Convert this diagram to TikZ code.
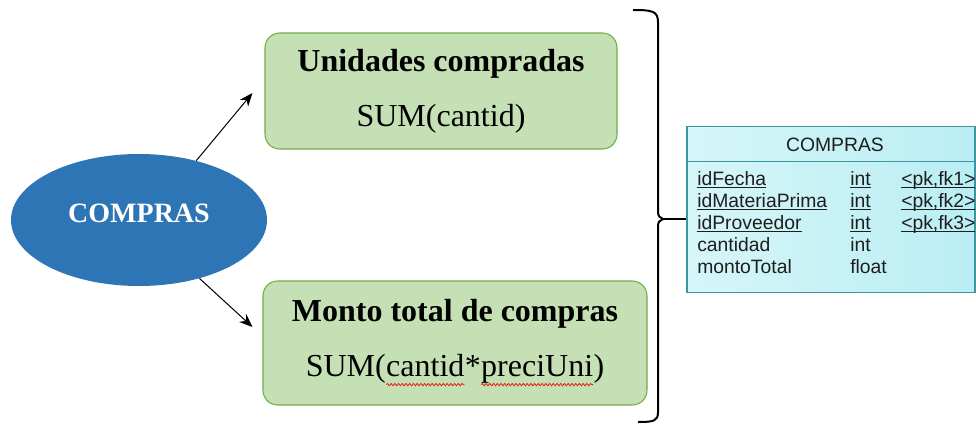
\documentclass[tikz,border=0pt]{standalone}
\usepackage{fontspec}
\setmainfont{Liberation Serif}
\setsansfont{Liberation Sans}
\usepackage{xcolor}
\usepackage{tikz}
\usetikzlibrary{shapes.geometric, arrows.meta, positioning, calc, decorations.pathmorphing}
\definecolor{myblue}{RGB}{46,117,182}
\definecolor{mygreen}{RGB}{112,173,71}
\definecolor{hdrgreen}{RGB}{197,224,180}
\definecolor{myteal}{RGB}{60,150,160}
\definecolor{tblleft}{RGB}{214,246,248}
\definecolor{tblright}{RGB}{186,238,244}
\definecolor{mydark}{RGB}{0,0,0}
\definecolor{tbltext}{RGB}{30,30,30}
\definecolor{spellred}{RGB}{225,30,30}
\newcommand{\fieldul}[1]{\setbox0\hbox{#1}\rlap{\rule[-2.5pt]{\wd0}{0.8pt}}\box0}
\newcommand{\spellwave}[1]{\tikz[baseline=(sw.base)]{%
  \node[shape=rectangle, draw=none, fill=none, inner sep=0pt, outer sep=0pt,
    minimum width=0pt, minimum height=0pt, rounded corners=0pt] (sw) {#1};
  \draw[spellred, line width=0.6pt, sharp corners, decorate,
    decoration={snake, amplitude=0.9pt, segment length=2.8pt}]
    ([yshift=-6pt]sw.base west) -- ([yshift=-6pt]sw.base east);}}
\tikzset{
  entity/.style={ellipse, fill=myblue, draw=none,
    minimum width=192pt, minimum height=99pt, inner sep=0pt, text depth=10pt,
    text=white, font=\fontsize{21}{25}\selectfont\bfseries},
  measure/.style={rectangle, draw=mygreen, fill=hdrgreen,
    align=center, rounded corners=11pt, line width=0.8pt,
    font=\fontsize{24}{41}\selectfont},
  tablebox/.style={rectangle, draw=myteal, left color=tblleft, right color=tblright,
    minimum width=216pt, minimum height=124pt, inner sep=0pt, line width=0.8pt},
  tblfield/.style={anchor=base west, inner sep=0pt, text=tbltext,
    font=\sffamily\fontsize{14.5}{17}\selectfont},
  arrow/.style={-{Stealth[length=10pt, width=8pt]}, line width=0.75pt, color=mydark},
  line/.style={line width=0.8pt, color=mydark},
  bracket/.style={line width=1.5pt, color=mydark, line join=round}
}

\begin{document}
\begin{tikzpicture}[x=0.75pt, y=-0.75pt]
  \useasboundingbox (0,0) rectangle (976,425);

  % Nodes
  \node[entity] (compras) at (139,220) {COMPRAS};
  \node[measure, minimum width=264pt, minimum height=87pt] (unid) at (441,91)
    {\textbf{Unidades compradas}\\SUM(cantid)};
  \node[measure, minimum width=288pt, minimum height=93pt] (monto) at (455,343)
    {\textbf{Monto total de compras}\\SUM(\spellwave{cantid}*\spellwave{preciUni})};

  % Table
  \node[tablebox] (tabla) at (831,209.5) {};
  \draw[line, color=myteal] ($(tabla.north west)+(0,35)$) -- ($(tabla.north east)+(0,35)$);
  \node[tblfield, anchor=center] (titulo) at (835,145) {COMPRAS};
  \node[tblfield] (idfecha) at (697,185) {\fieldul{idFecha}};
  \node[tblfield] (idfechaT) at (850,185) {\fieldul{int}};
  \node[tblfield] (idfechaK) at (901,185) {\fieldul{<pk,fk1>}};
  \node[tblfield] (idmat) at (697,207) {\fieldul{idMateriaPrima}};
  \node[tblfield] (idmatT) at (850,207) {\fieldul{int}};
  \node[tblfield] (idmatK) at (901,207) {\fieldul{<pk,fk2>}};
  \node[tblfield] (idprov) at (697,229) {\fieldul{idProveedor}};
  \node[tblfield] (idprovT) at (850,229) {\fieldul{int}};
  \node[tblfield] (idprovK) at (901,229) {\fieldul{<pk,fk3>}};
  \node[tblfield] (cant) at (697,251) {cantidad};
  \node[tblfield] (cantT) at (850,251) {int};
  \node[tblfield] (monTot) at (697,273) {montoTotal};
  \node[tblfield] (monTotT) at (850,273) {float};

  % Brace
  \draw[bracket] (633,10) .. controls (652,10) and (658,11) .. (658,22)
    -- (658,212) .. controls (658,216) and (660,218) .. (663,219)
    .. controls (660,220) and (658,222) .. (658,226)
    -- (658,412) .. controls (658,421) and (654,422) .. (638,422);
  \coordinate (cusp) at (663,219);

  % Arrows
  \draw[arrow] (compras.46) -- ($(unid.west)+(-12,2)$);
  \draw[arrow] (compras.-44) -- ($(monto.west)+(-10,-16)$);
  \draw[line] (cusp) -- (cusp -| tabla.west);
\end{tikzpicture}
\end{document}
